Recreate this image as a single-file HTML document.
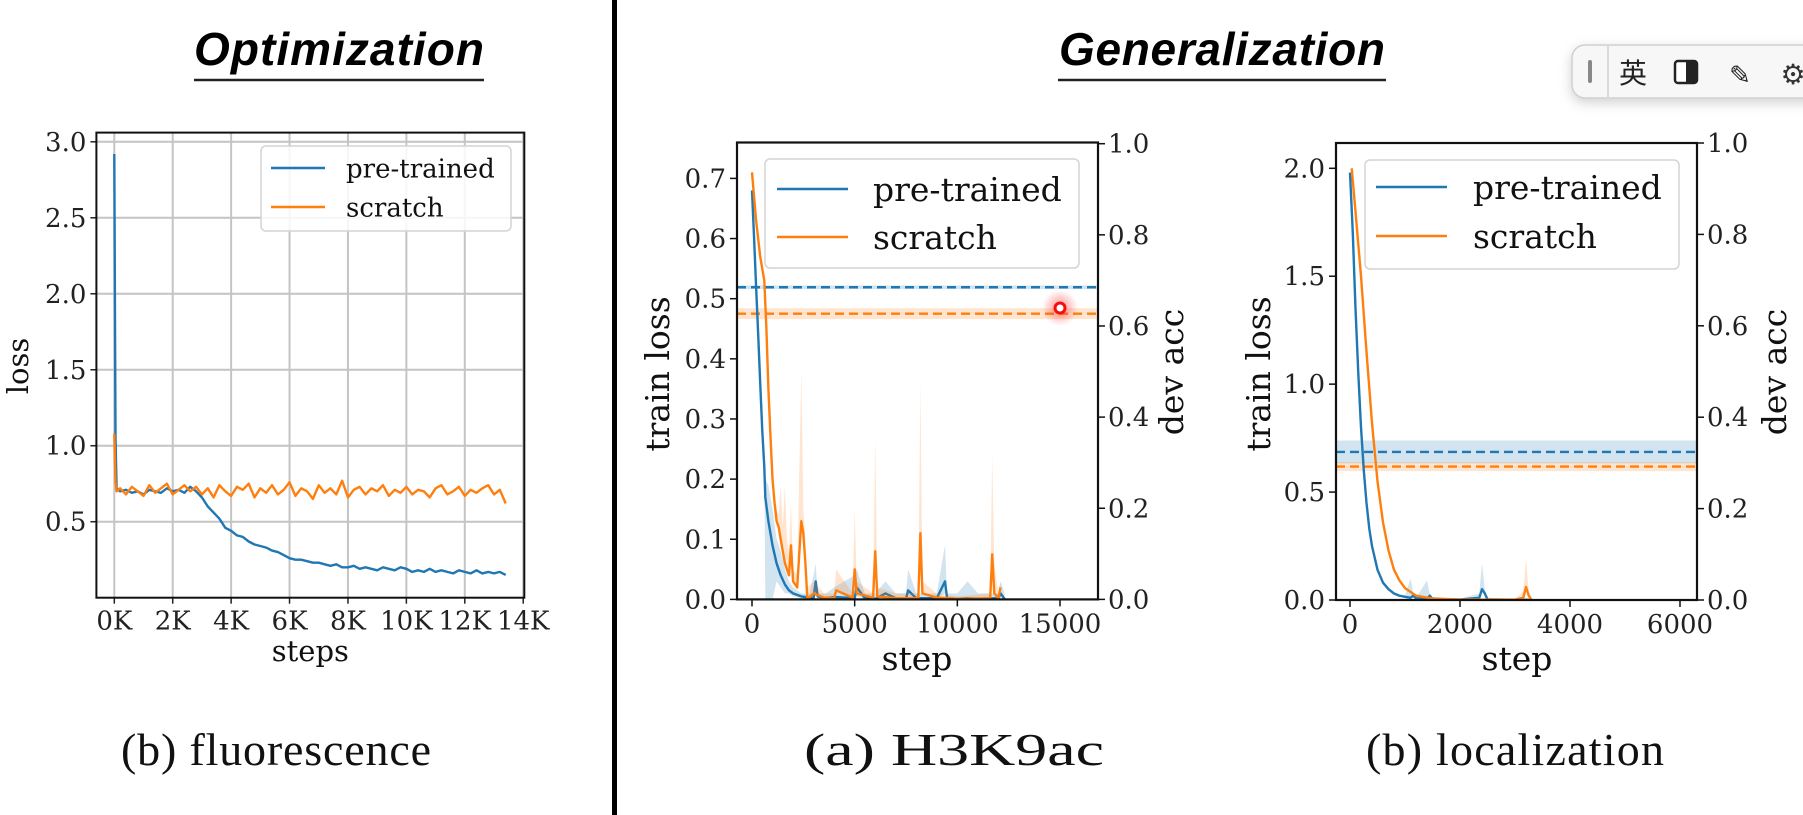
<!DOCTYPE html>
<html><head><meta charset="utf-8">
<style>
html,body{margin:0;padding:0;background:#fff;width:1803px;height:815px;overflow:hidden}
svg{display:block}
.tick{font-family:"DejaVu Serif",serif;font-size:26px;fill:#222}
.lab{font-family:"DejaVu Serif",serif;fill:#111}
.cap{font-family:"Liberation Serif",serif;font-size:46px;fill:#111}
.ttl{font-family:"Liberation Sans",sans-serif;font-weight:bold;font-style:italic;font-size:46px;fill:#000}
</style></head>
<body>
<svg id="root" width="1803" height="815" viewBox="0 0 1803 815" xmlns="http://www.w3.org/2000/svg">
<defs>
<radialGradient id="glow"><stop offset="0" stop-color="#ff3030" stop-opacity="0.55"/><stop offset="1" stop-color="#ff3030" stop-opacity="0"/></radialGradient>
<filter id="shadow" x="-20%" y="-50%" width="140%" height="220%"><feDropShadow dx="0" dy="4" stdDeviation="6" flood-color="#000" flood-opacity="0.18"/></filter>
</defs>
<text class="ttl" x="339" y="65" text-anchor="middle" textLength="290">Optimization</text>
<line x1="194" y1="80" x2="484" y2="80" stroke="#222" stroke-width="2.5"/>
<text class="ttl" x="1222" y="65" text-anchor="middle" textLength="326">Generalization</text>
<line x1="1058" y1="80" x2="1386" y2="80" stroke="#222" stroke-width="2.5"/>
<rect x="612" y="0" width="5" height="815" fill="#000"/>
<text class="cap" x="276" y="765" text-anchor="middle" textLength="310">(b) fluorescence</text>
<text class="cap" x="954" y="765" text-anchor="middle" textLength="300" lengthAdjust="spacingAndGlyphs">(a) H3K9ac</text>
<text class="cap" x="1515" y="765" text-anchor="middle" textLength="298">(b) localization</text>
<g>
<rect x="1572" y="45" width="260" height="53" rx="13" fill="#f7f7f7" stroke="#cfcfcf" stroke-width="1.5" filter="url(#shadow)"/>
<rect x="1588" y="60" width="4" height="23" rx="2" fill="#888"/>
<line x1="1608" y1="46" x2="1608" y2="97" stroke="#d0d0d0" stroke-width="1.5"/>
<text x="1633" y="83" text-anchor="middle" font-family="'Noto Sans CJK SC',sans-serif" font-size="28" fill="#222">英</text>
<g><rect x="1675" y="61" width="22" height="22" rx="3" fill="#fff" stroke="#222" stroke-width="2.5"/><rect x="1686" y="61" width="11" height="22" fill="#222"/></g>
<text x="1740" y="84" text-anchor="middle" font-family="'DejaVu Sans',sans-serif" font-size="26" fill="#222">✎</text>
<text x="1793" y="84" text-anchor="middle" font-family="'DejaVu Sans',sans-serif" font-size="28" fill="#333">⚙</text>
</g>
</svg>
<script>
// ---------- Chart 1: fluorescence ----------
const c1HeadSteps = [0, 40, 80];
const c1HeadPre = [2.92, 1.05, 0.72];
const c1HeadScr = [1.08, 0.76, 0.70];
const c1StartStep = 200, c1EndStep = 13400;
const c1Pre = [0.70,0.71,0.69,0.70,0.68,0.71,0.70,0.69,0.72,0.70,0.71,0.69,0.73,0.70,
0.66,0.60,0.56,0.52,0.46,0.44,0.41,0.40,0.37,0.35,0.34,0.33,0.31,0.30,0.28,0.26,0.25,0.25,0.24,0.23,0.23,0.22,0.21,0.22,0.20,0.20,0.21,0.19,0.20,0.19,0.18,0.20,0.19,0.18,0.20,0.19,0.17,0.18,0.17,0.19,0.17,0.18,0.17,0.16,0.18,0.17,0.16,0.18,0.16,0.17,0.16,0.17,0.15];
const c1Scr = [0.72,0.68,0.73,0.70,0.67,0.74,0.69,0.72,0.75,0.68,0.71,0.74,0.70,0.73,
0.68,0.72,0.66,0.74,0.70,0.67,0.73,0.71,0.75,0.66,0.72,0.69,0.74,0.68,0.71,0.76,0.67,0.72,0.70,0.65,0.74,0.69,0.72,0.68,0.77,0.66,0.71,0.73,0.68,0.72,0.70,0.74,0.67,0.71,0.69,0.73,0.68,0.71,0.70,0.66,0.72,0.74,0.68,0.70,0.73,0.67,0.71,0.69,0.72,0.74,0.68,0.71,0.62];
const c1YTicks = [0.5,1.0,1.5,2.0,2.5,3.0];
const c1XTicks = [0,2000,4000,6000,8000,10000,12000,14000];
const c1XTickLabels = ["0K","2K","4K","6K","8K","10K","12K","14K"];

// ---------- Chart 2: H3K9ac ----------
const c2StepsPre = [0,100,200,300,400,500,600,650,800,1000,1200,1400,1600,1800,2000,2400,2800,3000,3100,3200,3600,4000,5000,5100,5500,6000,6500,7000,7500,7600,8000,9000,9400,9500,10000,10500,11000,12000,12100,12300];
const c2LossPre = [0.68,0.60,0.52,0.44,0.36,0.28,0.22,0.17,0.13,0.09,0.06,0.04,0.025,0.015,0.01,0.005,0.003,0.002,0.03,0.005,0.002,0.004,0.002,0.02,0.002,0.001,0.01,0.002,0.001,0.015,0.002,0.002,0.03,0.002,0.001,0.002,0.001,0.002,0.01,0.001];
const c2UpperPre = [0.68,0.60,0.52,0.44,0.36,0.28,0.22,0.20,0.19,0.15,0.10,0.08,0.05,0.03,0.02,0.01,0.01,0.04,0.06,0.01,0.01,0.02,0.04,0.05,0.01,0.01,0.03,0.01,0.01,0.05,0.01,0.01,0.09,0.01,0.01,0.03,0.01,0.01,0.03,0.01];
const c2LowerPre = [0.68,0.60,0.52,0.44,0.36,0.28,0.22,0,0,0,0.03,0.02,0.01,0.01,0.005,0.002,0.001,0.001,0.01,0.002,0.001,0.001,0.001,0.005,0.001,0.001,0.002,0.001,0.001,0.005,0.001,0.001,0.01,0.001,0.001,0.001,0.001,0.001,0.002,0.001];
const c2StepsScr = [0,200,400,600,700,800,900,1000,1100,1200,1300,1400,1500,1600,1700,1800,1900,2000,2200,2400,2500,2600,2700,3000,3500,4000,4100,4900,5000,5100,5900,6000,6100,7000,8100,8200,8300,9000,10000,11600,11700,11800,12000,12100];
const c2LossScr = [0.71,0.63,0.57,0.53,0.45,0.35,0.27,0.20,0.16,0.13,0.12,0.10,0.08,0.06,0.05,0.04,0.09,0.03,0.02,0.13,0.11,0.06,0.0,0.01,0.003,0.002,0.015,0.003,0.05,0.01,0.003,0.08,0.005,0.002,0.002,0.11,0.01,0.003,0.001,0.002,0.075,0.01,0.002,0.02];
const c2UpperScr = [0.71,0.63,0.57,0.53,0.45,0.35,0.27,0.20,0.18,0.15,0.14,0.19,0.12,0.19,0.10,0.08,0.16,0.05,0.04,0.38,0.15,0.10,0.02,0.03,0.01,0.01,0.05,0.01,0.15,0.03,0.01,0.27,0.02,0.01,0.01,0.36,0.03,0.01,0.005,0.01,0.24,0.06,0.01,0.03];
const c2DevAcc = [0.685, 0.627];
const c2DevBand = [0.004, 0.012];
const c2YTicks = [0,0.1,0.2,0.3,0.4,0.5,0.6,0.7];
const c2Y2Ticks = [0,0.2,0.4,0.6,0.8,1.0];
const c2XTicks = [0,5000,10000,15000];

// ---------- Chart 3: localization ----------
const c3StepsPre = [0,50,100,150,200,250,300,350,400,500,600,700,800,900,1000,1100,1150,1200,1400,1450,1500,2000,2350,2400,2450,2500,3000,3300];
const c3LossPre = [1.98,1.70,1.35,1.05,0.80,0.60,0.45,0.33,0.25,0.14,0.08,0.05,0.03,0.02,0.015,0.01,0.02,0.008,0.005,0.02,0.004,0.002,0.01,0.05,0.03,0.003,0.001,0.001];
const c3UpperPre = [1.98,1.70,1.35,1.05,0.80,0.60,0.45,0.33,0.25,0.14,0.08,0.05,0.03,0.02,0.02,0.10,0.03,0.01,0.09,0.03,0.01,0.005,0.03,0.17,0.05,0.01,0.005,0.005];
const c3StepsScr = [30,100,200,300,400,500,600,700,800,900,1000,1200,1500,2000,3000,3150,3200,3250,3300];
const c3LossScr = [2.0,1.80,1.50,1.15,0.82,0.55,0.36,0.23,0.14,0.09,0.055,0.02,0.007,0.002,0.002,0.01,0.06,0.02,0.001];
const c3UpperScr = [2.0,1.80,1.50,1.15,0.82,0.55,0.36,0.23,0.14,0.09,0.055,0.02,0.007,0.002,0.004,0.04,0.19,0.04,0.003];
const c3DevAcc = [0.324, 0.292];
const c3DevBand = [0.025, 0.01];
const c3YTicks = [0,0.5,1.0,1.5,2.0];
const c3Y2Ticks = [0,0.2,0.4,0.6,0.8,1.0];
const c3XTicks = [0,2000,4000,6000];

const BLUE = "#1f77b4", ORANGE = "#ff7f0e";
const NS = "http://www.w3.org/2000/svg";
const root = document.getElementById("root");
function mk(tag, attrs, parent) {
  const e = document.createElementNS(NS, tag);
  for (const k in attrs) e.setAttribute(k, attrs[k]);
  (parent || root).appendChild(e);
  return e;
}
function lin(d0, d1, r0, r1) { return v => r0 + (v - d0) * (r1 - r0) / (d1 - d0); }
function pathFrom(xs, ys, sx, sy) {
  return xs.map((s, i) => (i ? "L" : "M") + sx(s).toFixed(1) + "," + sy(ys[i]).toFixed(1)).join("");
}
function bandFrom(xs, up, lo, sx, sy) {
  let d = xs.map((s, i) => (i ? "L" : "M") + sx(s).toFixed(1) + "," + sy(up[i]).toFixed(1)).join("");
  for (let i = xs.length - 1; i >= 0; i--) d += "L" + sx(xs[i]).toFixed(1) + "," + sy(lo[i]).toFixed(1);
  return d + "Z";
}
function fmt(v, dec) { return v.toFixed(dec); }

function legend(g, box, rows, fs) {
  const lg = mk("g", {}, g);
  
  
  mk("rect", {x: box.x, y: box.y, width: box.w, height: box.h, rx: 5, fill: "#fff", "fill-opacity": 0.85, stroke: "#d4d4d4", "stroke-width": 1.5}, lg);
  rows.forEach((r, i) => {
    const eg = mk("g", {}, lg);
    
    
    mk("line", {x1: box.lx1, x2: box.lx2, y1: box.rows[i], y2: box.rows[i], stroke: r.color, "stroke-width": 2.5}, eg);
    const t = mk("text", {x: box.tx, y: box.rows[i] + fs * 0.36, class: "lab", "font-size": fs}, eg);
    t.textContent = r.label;
  });
}

(function () {
  const g = mk("g", {});
  
  
  const L = 96.4, R = 524.3, T = 132.6, B = 597.7;
  const sx = lin(0, 14000, 114.3, 523.2), sy = lin(0, 3, 597.7, 141.8);
  c1YTicks.forEach(v => {
    mk("line", {x1: L, x2: R, y1: sy(v), y2: sy(v), stroke: "#c4c4c4", "stroke-width": 2}, g);
    mk("line", {x1: L - 6, x2: L, y1: sy(v), y2: sy(v), stroke: "#222", "stroke-width": 1.5}, g);
    const t = mk("text", {x: L - 10, y: sy(v) + 9, class: "tick", "text-anchor": "end"}, g);
    
    
    t.textContent = fmt(v, 1);
  });
  c1XTicks.forEach((v, i) => {
    mk("line", {x1: sx(v), x2: sx(v), y1: T, y2: B, stroke: "#c4c4c4", "stroke-width": 2}, g);
    mk("line", {x1: sx(v), x2: sx(v), y1: B, y2: B + 6, stroke: "#222", "stroke-width": 1.5}, g);
    const t = mk("text", {x: sx(v), y: B + 32, class: "tick", "text-anchor": "middle"}, g);
    
    
    t.textContent = c1XTickLabels[i];
  });
  const n1 = c1Pre.length, n2 = c1Scr.length;
  const xsPre = c1HeadSteps.concat(c1Pre.map((_, i) => c1StartStep + i * (c1EndStep - c1StartStep) / (n1 - 1)));
  const xsScr = c1HeadSteps.concat(c1Scr.map((_, i) => c1StartStep + i * (c1EndStep - c1StartStep) / (n2 - 1)));
  const pPre = mk("path", {d: pathFrom(xsPre, c1HeadPre.concat(c1Pre), sx, sy), fill: "none", stroke: BLUE, "stroke-width": 2.4, "stroke-linejoin": "round"}, g);
  
  
  const pScr = mk("path", {d: pathFrom(xsScr, c1HeadScr.concat(c1Scr), sx, sy), fill: "none", stroke: ORANGE, "stroke-width": 2.4, "stroke-linejoin": "round"}, g);
  
  
  mk("rect", {x: L, y: T, width: R - L, height: B - T, fill: "none", stroke: "#111", "stroke-width": 2}, g);
  legend(g, {x: 261, y: 146, w: 250, h: 85, lx1: 271, lx2: 325, tx: 346, rows: [168, 207]},
    [{label: "pre-trained", color: BLUE}, {label: "scratch", color: ORANGE}], 26);
  const xl = mk("text", {x: (L + R) / 2, y: 661, class: "lab", "font-size": 29, "text-anchor": "middle"}, g);
  
  
  xl.textContent = "steps";
  const yl = mk("text", {x: 0, y: 0, class: "lab", "font-size": 29, "text-anchor": "middle", transform: "translate(28,366) rotate(-90)"}, g);
  
  
  yl.textContent = "loss";
})();

function dualChart(name, c) {
  const g = mk("g", {});
  
  
  const {L, R, T, B} = c;
  const sx = c.sx, sy = c.sy, sy2 = c.sy2;
  c.yTicks.forEach(v => {
    mk("line", {x1: L - 7, x2: L, y1: sy(v), y2: sy(v), stroke: "#111", "stroke-width": 1.5}, g);
    const t = mk("text", {x: L - 11, y: sy(v) + 9, class: "tick", "text-anchor": "end"}, g);
    
    
    t.textContent = fmt(v, 1);
  });
  c.y2Ticks.forEach(v => {
    mk("line", {x1: R, x2: R + 7, y1: sy2(v), y2: sy2(v), stroke: "#111", "stroke-width": 1.5}, g);
    const t = mk("text", {x: R + 10, y: sy2(v) + 9, class: "tick", "text-anchor": "start"}, g);
    
    
    t.textContent = fmt(v, 1);
  });
  c.xTicks.forEach(v => {
    mk("line", {x1: sx(v), x2: sx(v), y1: B, y2: B + 7, stroke: "#111", "stroke-width": 1.5}, g);
    const t = mk("text", {x: sx(v), y: B + 33, class: "tick", "text-anchor": "middle"}, g);
    
    
    t.textContent = String(v);
  });
  const cols = [BLUE, ORANGE];
  c.dev.forEach((v, i) => {
    const band = mk("rect", {x: L, y: sy2(v + c.devBand[i]), width: R - L, height: sy2(v - c.devBand[i]) - sy2(v + c.devBand[i]), fill: cols[i], "fill-opacity": 0.2}, g);
    
    
    const dl = mk("line", {x1: L, x2: R, y1: sy2(v), y2: sy2(v), stroke: cols[i], "stroke-width": 2.4, "stroke-dasharray": "9,5"}, g);
    
    
  });
  [[c.sP, c.lP, c.uP, c.loP || c.lP, BLUE, "pre-trained"], [c.sS, c.lS, c.uS, c.lS, ORANGE, "scratch"]].forEach(([xs, ls, us, lo, col, nm]) => {
    const b = mk("path", {d: bandFrom(xs, us, lo, sx, sy), fill: col, "fill-opacity": 0.2, stroke: "none"}, g);
    
    
    const p = mk("path", {d: pathFrom(xs, ls, sx, sy), fill: "none", stroke: col, "stroke-width": 2.4, "stroke-linejoin": "round"}, g);
    
    
  });
  mk("rect", {x: L, y: T, width: R - L, height: B - T, fill: "none", stroke: "#111", "stroke-width": 2.2}, g);
  legend(g, c.leg, [{label: "pre-trained", color: BLUE}, {label: "scratch", color: ORANGE}], 33);
  const xl = mk("text", {x: c.xlx, y: 670, class: "lab", "font-size": 33, "text-anchor": "middle"}, g);
  
  
  xl.textContent = "step";
  const yl = mk("text", {x: 0, y: 0, class: "lab", "font-size": 33, "text-anchor": "middle", transform: "translate(" + c.ylx + ",374) rotate(-90)"}, g);
  
  
  yl.textContent = "train loss";
  const yr = mk("text", {x: 0, y: 0, class: "lab", "font-size": 33, "text-anchor": "middle", transform: "translate(" + c.yrx + ",372) rotate(-90)"}, g);
  
  
  yr.textContent = "dev acc";
  return g;
}

const g2 = dualChart("h3k9ac-chart", {
  L: 737, R: 1098, T: 142.5, B: 599.4,
  sx: lin(0, 15000, 752, 1060), sy: lin(0, 0.7, 599.4, 178.4), sy2: lin(0, 1, 599.4, 143.7),
  yTicks: c2YTicks, y2Ticks: c2Y2Ticks, xTicks: c2XTicks,
  dev: c2DevAcc, devBand: c2DevBand,
  sP: c2StepsPre, lP: c2LossPre, uP: c2UpperPre, loP: c2LowerPre, sS: c2StepsScr, lS: c2LossScr, uS: c2UpperScr,
  leg: {x: 765, y: 159, w: 314, h: 109, lx1: 777, lx2: 848, tx: 873, rows: [189, 237]},
  xlx: 917, ylx: 669, yrx: 1183
});
const glow = mk("circle", {cx: 1060, cy: 308, r: 18, fill: "url(#glow)"}, g2);


const cur = mk("circle", {cx: 1060, cy: 308, r: 5, fill: "#fff", stroke: "#f01010", "stroke-width": 3}, g2);



dualChart("localization-chart", {
  L: 1336, R: 1697, T: 143, B: 600,
  sx: lin(0, 6000, 1350, 1680), sy: lin(0, 2, 600, 168.3), sy2: lin(0, 1, 600, 143),
  yTicks: c3YTicks, y2Ticks: c3Y2Ticks, xTicks: c3XTicks,
  dev: c3DevAcc, devBand: c3DevBand,
  sP: c3StepsPre, lP: c3LossPre, uP: c3UpperPre, sS: c3StepsScr, lS: c3LossScr, uS: c3UpperScr,
  leg: {x: 1365, y: 160, w: 314, h: 109, lx1: 1376, lx2: 1447, tx: 1473, rows: [187, 236]},
  xlx: 1517, ylx: 1270, yrx: 1786
});
</script>
</body></html>
